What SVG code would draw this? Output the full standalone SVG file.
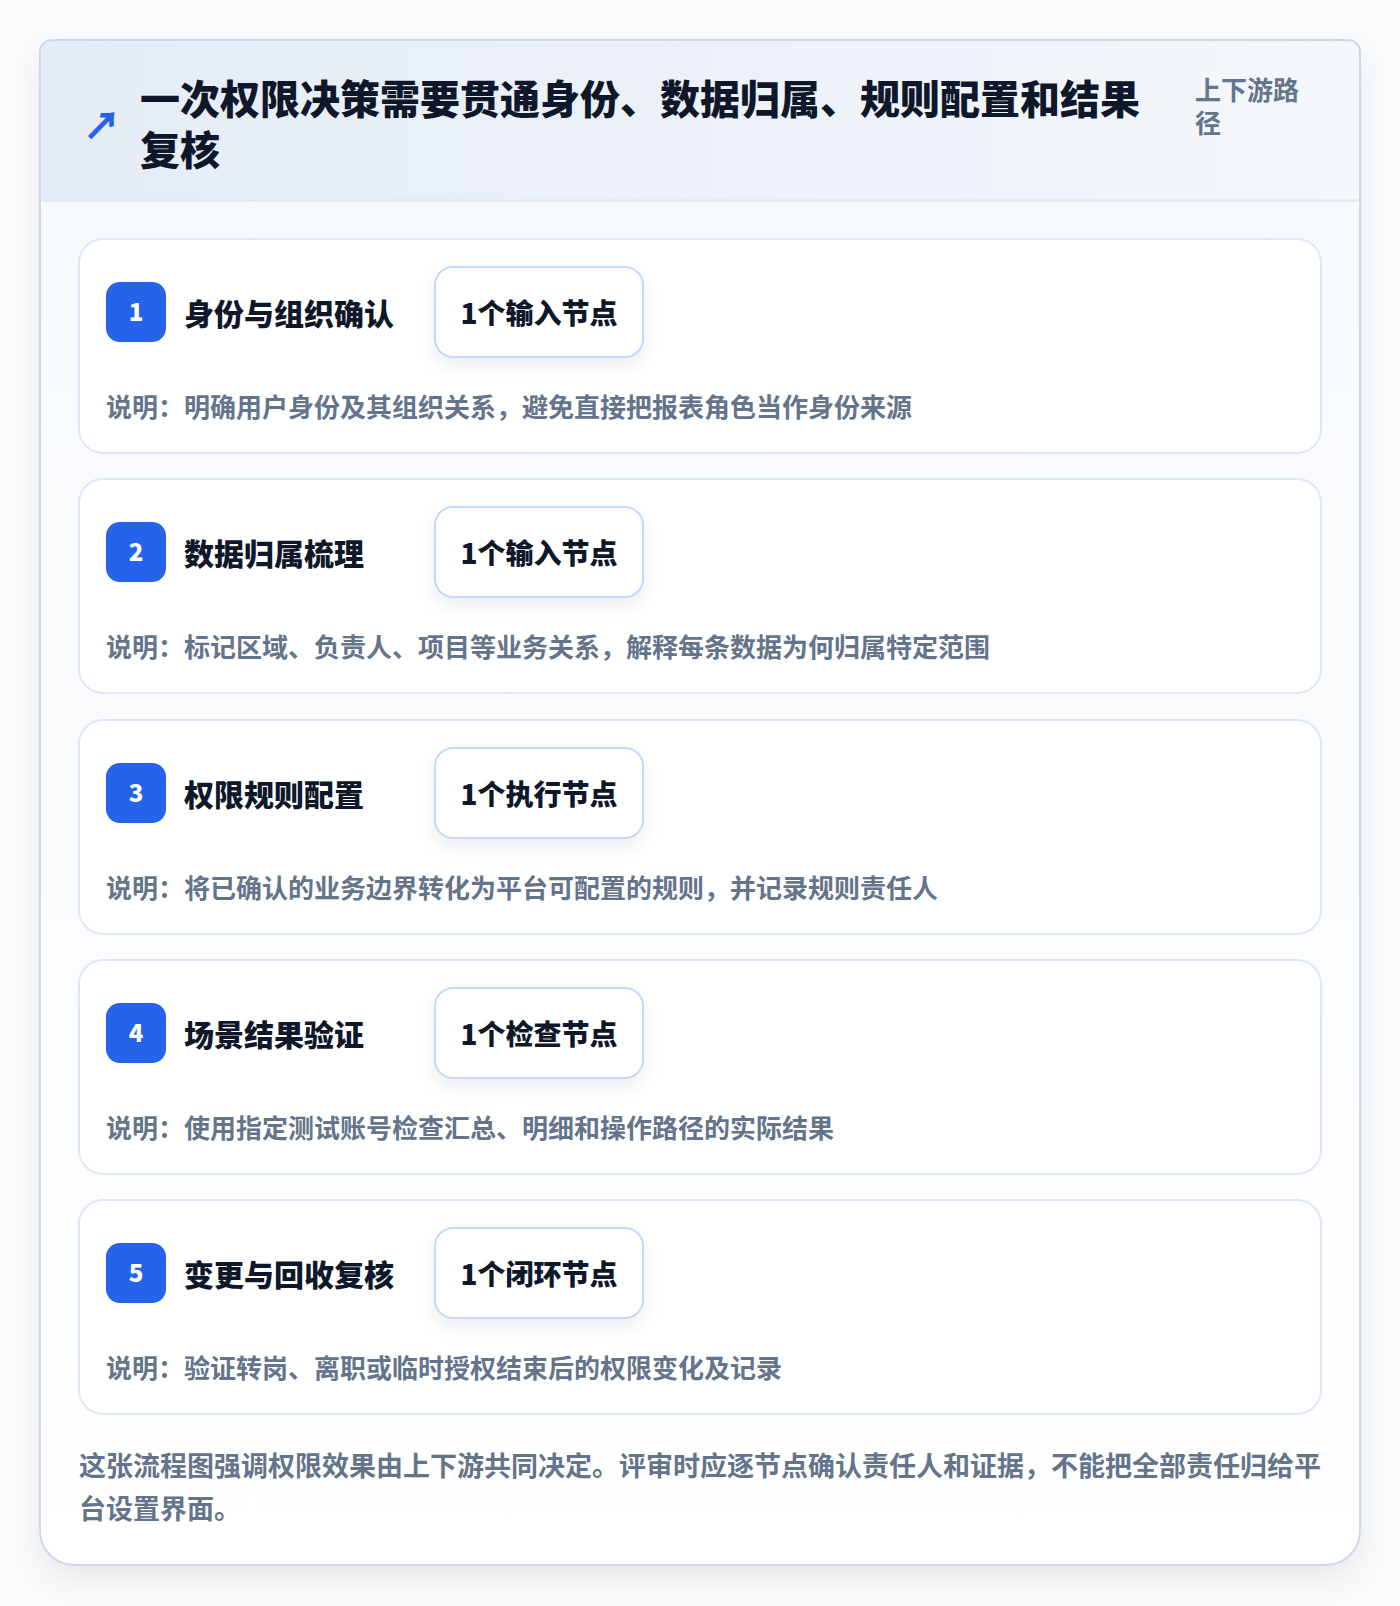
<svg xmlns="http://www.w3.org/2000/svg" width="1400" height="1606" viewBox="0 0 1400 1606">
<defs>
<linearGradient id="hdr" x1="0" y1="0" x2="1" y2="0"><stop offset="0" stop-color="#e5ecf6"/><stop offset="1" stop-color="#f4f7fb"/></linearGradient>
<linearGradient id="body" x1="0" y1="0" x2="0" y2="1"><stop offset="0" stop-color="#f6f9fc"/><stop offset="1" stop-color="#ffffff"/></linearGradient>
<filter id="cardShadow" x="-10%" y="-10%" width="120%" height="120%"><feDropShadow dx="0" dy="14" stdDeviation="16" flood-color="#0f172a" flood-opacity="0.08"/></filter>
<filter id="pillShadow" x="-20%" y="-30%" width="140%" height="170%"><feDropShadow dx="0" dy="8" stdDeviation="9" flood-color="#1e293b" flood-opacity="0.07"/></filter>
</defs>
<style>
text{font-family:"Noto Sans CJK SC","Noto Sans",sans-serif}
.step{fill:#ffffff;stroke:#dce8f8;stroke-width:2}
.badge{fill:#2563eb}
.num{fill:#ffffff;font-size:24px;font-weight:900;text-anchor:middle}
.stitle{fill:#0f172a;font-size:30px;font-weight:900}
.pill{fill:#ffffff;stroke:#c4daf6;stroke-width:2}
.ptext{fill:#0f172a;font-size:28px;font-weight:900;text-anchor:middle}
.desc{fill:#64748b;font-size:26px;font-weight:700}
.foot{fill:#64748b;font-size:27px;font-weight:700}
</style>
<rect width="1400" height="1606" fill="#fafbfc"/>
<g id="frame">
<path d="M52,40 H1348 A12,12 0 0 1 1360,52 V1531 A34,34 0 0 1 1326,1565 H74 A34,34 0 0 1 40,1531 V52 A12,12 0 0 1 52,40 Z" fill="url(#body)" filter="url(#cardShadow)"/>
<path d="M52,40 H1348 A12,12 0 0 1 1360,52 V200 H40 V52 A12,12 0 0 1 52,40 Z" fill="url(#hdr)"/>
<line x1="41" y1="200.5" x2="1359" y2="200.5" stroke="#dbe6f5" stroke-width="2"/>
<path d="M52,40 H1348 A12,12 0 0 1 1360,52 V1531 A34,34 0 0 1 1326,1565 H74 A34,34 0 0 1 40,1531 V52 A12,12 0 0 1 52,40 Z" fill="none" stroke="#cfd8e5" stroke-width="2"/>
</g>
<g id="header">
<text x="83" y="139" font-size="38" fill="#2563eb" font-weight="900">↗</text>
<text x="140" y="114" font-size="40" font-weight="900" fill="#0f172a">一次权限决策需要贯通身份、数据归属、规则配置和结果</text>
<text x="140" y="165" font-size="40" font-weight="900" fill="#0f172a">复核</text>
<text x="1195" y="100" font-size="26" font-weight="700" fill="#64748b">上下游路</text>
<text x="1195" y="133" font-size="26" font-weight="700" fill="#64748b">径</text>
</g>
<g id="step1" transform="translate(0,239)">
<rect class="step" x="79" y="0" width="1242" height="214" rx="24"/>
<rect class="badge" x="106" y="43" width="60" height="60" rx="14"/>
<text class="num" x="136" y="82">1</text>
<text class="stitle" x="184" y="86">身份与组织确认</text>
<rect class="pill" x="435" y="28" width="208" height="90" rx="18" filter="url(#pillShadow)"/>
<text class="ptext" x="539" y="85">1个输入节点</text>
<text class="desc" x="106" y="178">说明：明确用户身份及其组织关系，避免直接把报表角色当作身份来源</text>
</g>
<g id="step2" transform="translate(0,479)">
<rect class="step" x="79" y="0" width="1242" height="214" rx="24"/>
<rect class="badge" x="106" y="43" width="60" height="60" rx="14"/>
<text class="num" x="136" y="82">2</text>
<text class="stitle" x="184" y="86">数据归属梳理</text>
<rect class="pill" x="435" y="28" width="208" height="90" rx="18" filter="url(#pillShadow)"/>
<text class="ptext" x="539" y="85">1个输入节点</text>
<text class="desc" x="106" y="178">说明：标记区域、负责人、项目等业务关系，解释每条数据为何归属特定范围</text>
</g>
<g id="step3" transform="translate(0,720)">
<rect class="step" x="79" y="0" width="1242" height="214" rx="24"/>
<rect class="badge" x="106" y="43" width="60" height="60" rx="14"/>
<text class="num" x="136" y="82">3</text>
<text class="stitle" x="184" y="86">权限规则配置</text>
<rect class="pill" x="435" y="28" width="208" height="90" rx="18" filter="url(#pillShadow)"/>
<text class="ptext" x="539" y="85">1个执行节点</text>
<text class="desc" x="106" y="178">说明：将已确认的业务边界转化为平台可配置的规则，并记录规则责任人</text>
</g>
<g id="step4" transform="translate(0,960)">
<rect class="step" x="79" y="0" width="1242" height="214" rx="24"/>
<rect class="badge" x="106" y="43" width="60" height="60" rx="14"/>
<text class="num" x="136" y="82">4</text>
<text class="stitle" x="184" y="86">场景结果验证</text>
<rect class="pill" x="435" y="28" width="208" height="90" rx="18" filter="url(#pillShadow)"/>
<text class="ptext" x="539" y="85">1个检查节点</text>
<text class="desc" x="106" y="178">说明：使用指定测试账号检查汇总、明细和操作路径的实际结果</text>
</g>
<g id="step5" transform="translate(0,1200)">
<rect class="step" x="79" y="0" width="1242" height="214" rx="24"/>
<rect class="badge" x="106" y="43" width="60" height="60" rx="14"/>
<text class="num" x="136" y="82">5</text>
<text class="stitle" x="184" y="86">变更与回收复核</text>
<rect class="pill" x="435" y="28" width="208" height="90" rx="18" filter="url(#pillShadow)"/>
<text class="ptext" x="539" y="85">1个闭环节点</text>
<text class="desc" x="106" y="178">说明：验证转岗、离职或临时授权结束后的权限变化及记录</text>
</g>
<g id="connectors"></g>
<g id="footer">
<text class="foot" x="79" y="1476">这张流程图强调权限效果由上下游共同决定。评审时应逐节点确认责任人和证据，不能把全部责任归给平</text>
<text class="foot" x="79" y="1519">台设置界面。</text>
</g>
</svg>
